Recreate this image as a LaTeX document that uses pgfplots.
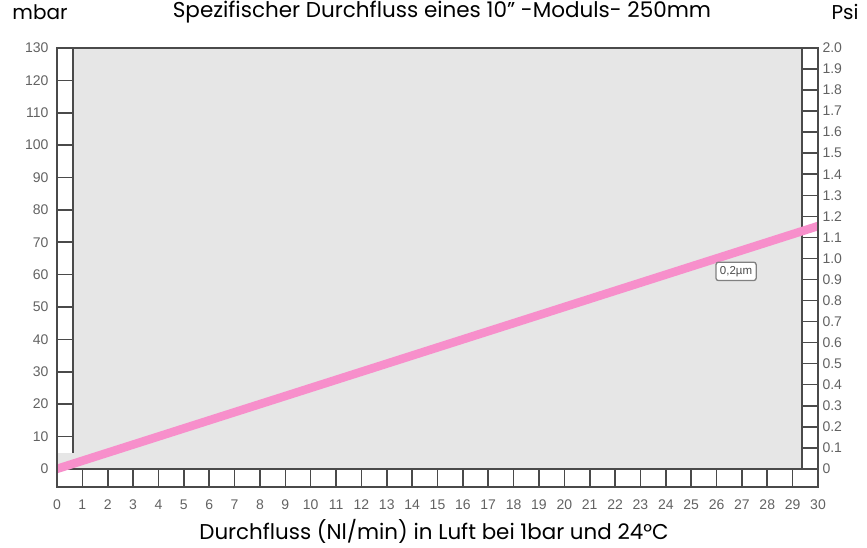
\documentclass[border=0pt]{standalone}
\usepackage{pgfplots}
\pgfplotsset{compat=1.18}
\usepackage{fontspec}
\setmainfont{Poppins}
\newfontfamily\tickfont{Liberation Sans}
\definecolor{plotgrey}{HTML}{E6E6E6}
\definecolor{framec}{HTML}{4A4A4A}
\definecolor{tickc}{HTML}{626262}
\definecolor{pinkline}{HTML}{F78FCB}
\begin{document}
\begin{tikzpicture}[x=1pt,y=1pt]
\path[use as bounding box] (-57,-60) rectangle (810,487);
\pgfplotsset{
  common/.style={
    scale only axis, width=761pt, height=439pt,
    xmin=0, xmax=30,
    major tick length=0pt,
    ticklabel style={font=\tickfont\fontsize{14}{16}\selectfont, text=tickc},
    /pgf/number format/assume math mode=true,
    axis line style={framec, line width=1.6pt},
  }
}
\begin{axis}[common,
  ymin=-5.6, ymax=130,
  xtick={0,...,30}, ytick={0,10,...,130},
  xtick pos=bottom, ytick pos=left,
  xticklabel style={yshift=-9pt},
  yticklabel style={xshift=-5pt},
  axis background/.style={fill=white},
  axis on top,
  clip=true,
]
\fill[plotgrey] (axis cs:0,0) rectangle (axis cs:30,130);
\fill[white] (axis cs:0,5) rectangle (axis cs:0.63,130);
\fill[white] (axis cs:29.37,0) rectangle (axis cs:30,130);
\fill[white] (axis cs:0,-5.6) rectangle (axis cs:30,0);
\draw[framec, line width=1.6pt] (axis cs:0.63,5) -- (axis cs:0.63,130);
\draw[framec, line width=1.6pt] (axis cs:29.37,0) -- (axis cs:29.37,130);
\draw[framec, line width=1.6pt] (axis cs:0,0) -- (axis cs:30,0);
\pgfplotsinvokeforeach{1,...,29}{
  \draw[framec, line width=1.6pt] (axis cs:#1,-5.6) -- (axis cs:#1,0);
}
\pgfplotsinvokeforeach{10,20,...,120}{
  \draw[framec, line width=1.6pt] (axis cs:0,#1) -- (axis cs:0.63,#1);
}
\pgfplotsinvokeforeach{1,...,19}{
  \draw[framec, line width=1.6pt] (axis cs:29.37,#1*6.5) -- (axis cs:30,#1*6.5);
}
\draw[gray!70, line width=2pt] (axis cs:0,130) -- (axis cs:30,130);
\addplot[pinkline, line width=8.5pt, no marks] coordinates {(0,0) (30,75)};
\node[draw=gray, fill=white, rounded corners=2.5pt, line width=1.3pt, inner sep=4pt,
  font=\tickfont\fontsize{11.5}{12}\selectfont, text=black!70] at (axis cs:26.77,61) {0,2µm};
\end{axis}
\begin{axis}[common,
  ymin=-0.086154, ymax=2.0,
  axis y line*=right, axis x line=none,
  ytick={0,0.1,...,2.0},
  ytick pos=right,
  yticklabel style={xshift=1pt},
  yticklabels={0,0.1,0.2,0.3,0.4,0.5,0.6,0.7,0.8,0.9,1.0,1.1,1.2,1.3,1.4,1.5,1.6,1.7,1.8,1.9,2.0},
]
\end{axis}
\node[font=\fontsize{21.5}{24}\selectfont] at (385,475) {Spezifischer Durchfluss eines 10” -Moduls- 250mm};
\node[font=\fontsize{20}{24}\selectfont] at (-17,475) {mbar};
\node[font=\fontsize{20}{24}\selectfont] at (788,475) {Psi};
\node[font=\fontsize{21.4}{24}\selectfont] at (377,-44) {Durchfluss (Nl/min) in Luft bei 1bar und 24°C};
\end{tikzpicture}
\end{document}
